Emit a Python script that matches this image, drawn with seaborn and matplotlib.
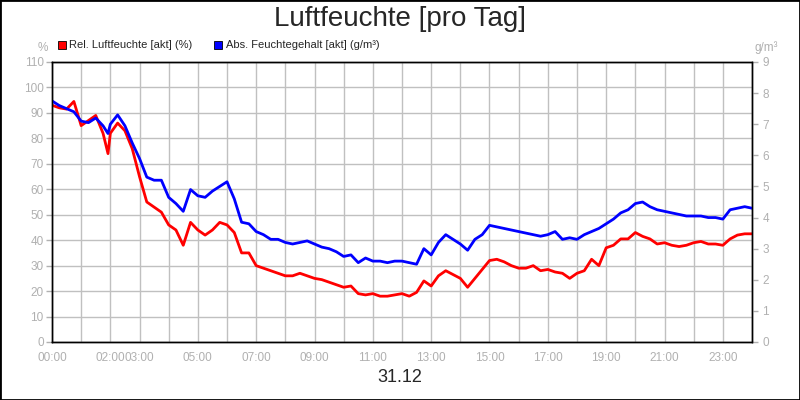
import matplotlib
matplotlib.use("Agg")
import matplotlib.pyplot as plt
import seaborn as sns
import pandas as pd
from matplotlib.patches import Rectangle

hours = [0, 0.25, 0.5, 0.75, 1, 1.25, 1.5, 1.75, 1.92, 2, 2.25, 2.5, 2.75, 3, 3.25, 3.5, 3.75,
         4, 4.25, 4.5, 4.75, 5, 5.25, 5.5, 5.75, 6, 6.25, 6.5, 6.75, 7, 7.25, 7.5, 7.75,
         8, 8.25, 8.5, 8.75, 9, 9.25, 9.5, 9.75, 10, 10.25, 10.5, 10.75, 11, 11.25, 11.5, 11.75,
         12, 12.25, 12.5, 12.75, 13, 13.25, 13.5, 13.75, 14, 14.25, 14.5, 14.75, 15, 15.25, 15.5, 15.75,
         16, 16.25, 16.5, 16.75, 17, 17.25, 17.5, 17.75, 18, 18.25, 18.5, 18.75, 19, 19.25, 19.5, 19.75,
         20, 20.25, 20.5, 20.75, 21, 21.25, 21.5, 21.75, 22, 22.25, 22.5, 22.75, 23, 23.25, 23.5, 23.75, 24]
rel = [93, 92, 91.5, 94.5, 85, 87, 89, 82, 74, 82, 86, 83, 76, 65, 55, 53, 51,
       46, 44, 38, 47, 44, 42, 44, 47, 46, 43, 35, 35, 30, 29, 28, 27,
       26, 26, 27, 26, 25, 24.5, 23.5, 22.5, 21.5, 22, 19, 18.5, 19, 18, 18, 18.5,
       19, 18, 19.5, 24, 22, 26, 28, 26.5, 25, 21.5, 25, 28.5, 32, 32.5, 31.5, 30,
       29, 29, 30, 28, 28.5, 27.5, 27, 25, 27, 28, 32.5, 30, 37, 38, 40.5, 40.5,
       43, 41.5, 40.5, 38.5, 39, 38, 37.5, 38, 39, 39.5, 38.5, 38.5, 38, 40.5, 42, 42.5, 42.5]
absf = [7.75, 7.6, 7.5, 7.4, 7.1, 7.05, 7.2, 6.95, 6.7, 7.0, 7.3, 6.95, 6.4, 5.9, 5.3, 5.2, 5.2,
        4.65, 4.45, 4.2, 4.9, 4.7, 4.65, 4.85, 5.0, 5.15, 4.6, 3.85, 3.8, 3.55, 3.45, 3.3, 3.3,
        3.2, 3.15, 3.2, 3.25, 3.15, 3.05, 3.0, 2.9, 2.75, 2.8, 2.55, 2.7, 2.6, 2.6, 2.55, 2.6,
        2.6, 2.55, 2.5, 3.0, 2.8, 3.2, 3.45, 3.3, 3.15, 2.95, 3.3, 3.45, 3.75, 3.7, 3.65, 3.6,
        3.55, 3.5, 3.45, 3.4, 3.45, 3.55, 3.3, 3.35, 3.3, 3.45, 3.55, 3.65, 3.8, 3.95, 4.15, 4.25,
        4.45, 4.5, 4.35, 4.25, 4.2, 4.15, 4.1, 4.05, 4.05, 4.05, 4.0, 4.0, 3.95, 4.25, 4.3, 4.35, 4.3]
xlabels = ["00:00", "", "02:00", "03:00", "", "05:00", "", "07:00", "", "09:00", "", "11:00", "",
           "13:00", "", "15:00", "", "17:00", "", "19:00", "", "21:00", "", "23:00", ""]

sns.set_style("white")
plt.rcParams['font.family'] = ['Liberation Sans', 'DejaVu Sans']
df = pd.DataFrame({"h": hours, "rel": rel, "abs": absf})

fig = plt.figure(figsize=(8, 4), dpi=100)
fig.patches.append(Rectangle((0, 0), 1, 1, transform=fig.transFigure, fill=False,
                             edgecolor="black", linewidth=2))
ax = fig.add_axes([0.065, 0.145, 0.875, 0.70])
ax2 = ax.twinx()
sns.lineplot(data=df, x="h", y="rel", ax=ax, color="#ff0000", linewidth=2)
sns.lineplot(data=df, x="h", y="abs", ax=ax2, color="#0000ff", linewidth=2)

gray = "#b0b0b0"
ax.set_xlim(0, 24)
ax.set_ylim(0, 110)
ax2.set_ylim(0, 9)
ax.set_xticks(range(25))
ax.set_xticklabels(xlabels)
ax.set_yticks(range(0, 111, 10))
ax2.set_yticks(range(0, 10))
ax.grid(True, color="#c0c0c0", linewidth=1)
ax.set_axisbelow(True)
for a in (ax, ax2):
    a.set_xlabel("")
    a.set_ylabel("")
    a.tick_params(colors=gray, labelsize=8.5, length=4, width=1, labelcolor=gray)
    for s in a.spines.values():
        s.set_color("black")
        s.set_linewidth(1)
ax.tick_params(axis="y", pad=2)
ax.tick_params(axis="x", pad=3)

fig.text(0.5, 0.952, "Luftfeuchte [pro Tag]", ha="center", va="center", fontsize=20)
fig.text(0.5, 0.055, "31.12", ha="center", va="center", fontsize=13)
fig.text(0.053, 0.88, "%", ha="center", va="center", fontsize=8.5, color=gray)
fig.text(0.958, 0.88, "g/m³", ha="center", va="center", fontsize=8.5, color=gray)

fig.patches.append(Rectangle((0.072, 0.878), 0.01, 0.02, transform=fig.transFigure,
                             facecolor="#ff0000", edgecolor="black", linewidth=0.6))
fig.text(0.086, 0.888, "Rel. Luftfeuchte [akt] (%)", ha="left", va="center", fontsize=8)
fig.patches.append(Rectangle((0.268, 0.878), 0.01, 0.02, transform=fig.transFigure,
                             facecolor="#0000ff", edgecolor="black", linewidth=0.6))
fig.text(0.282, 0.888, "Abs. Feuchtegehalt [akt] (g/m³)", ha="left", va="center", fontsize=8)

fig.savefig("out.png", dpi=100)
